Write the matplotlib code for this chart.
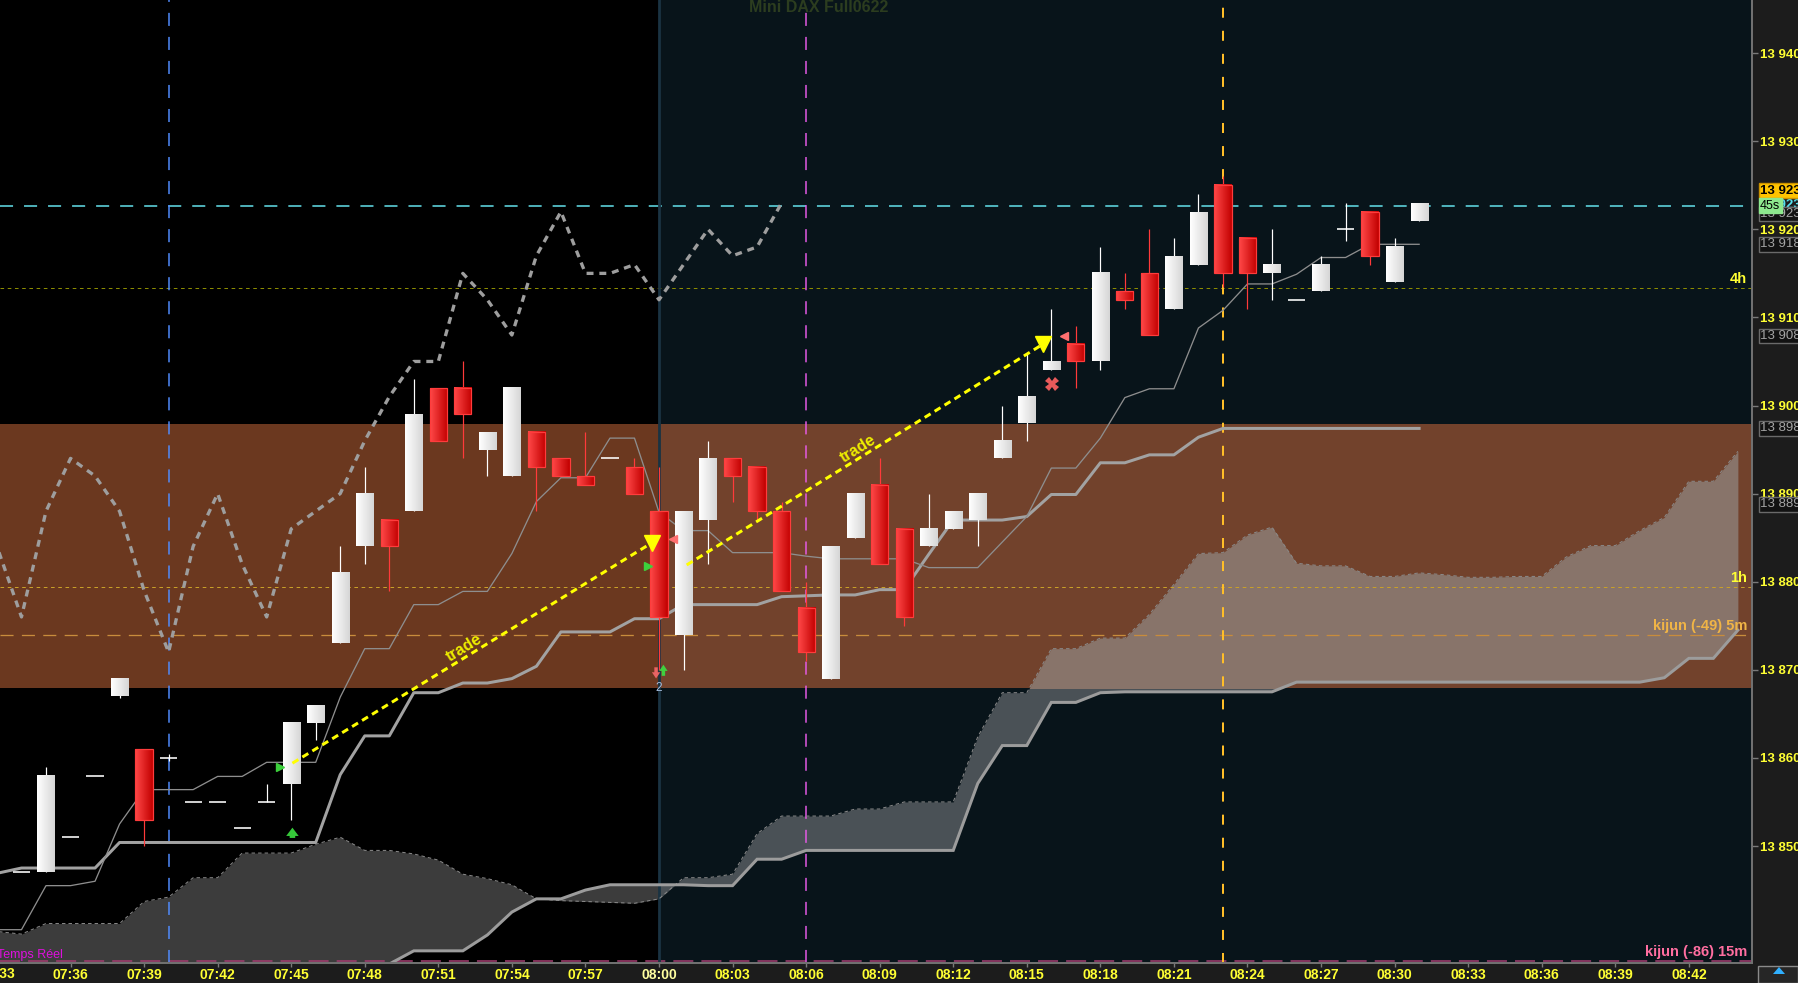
import matplotlib
matplotlib.use("Agg")
import numpy as np
import matplotlib.pyplot as plt
import matplotlib.transforms as mtransforms
from matplotlib import font_manager
from matplotlib.patches import Rectangle, Polygon
from matplotlib.colors import LinearSegmentedColormap

plt.rcParams["lines.scale_dashes"] = False
_names = {f.name for f in font_manager.fontManager.ttflist}
NARROW = "Liberation Sans Narrow" if "Liberation Sans Narrow" in _names else "Liberation Sans"
FS = 12 if NARROW == "Liberation Sans Narrow" else 10.5
FSY = FS - 1
FSX = FS - 0.5
plt.rcParams["font.family"] = [NARROW, "DejaVu Sans"]

# ---------------------------------------------------------------- data
TITLE = "Mini DAX Full0622"
CANDLE_START = "07:34"
INDICATOR_START = "07:33"
SESSION_START = "08:00"

opens = [13847, 13847, 13851, 13858, 13867, 13861, 13860, 13855, 13855, 13852,
         13855, 13857, 13864, 13873, 13884, 13887, 13888, 13902, 13902, 13895,
         13892, 13897, 13894, 13892, 13894, 13893, 13888, 13874, 13887, 13894,
         13893, 13888, 13877, 13869, 13885, 13891, 13886, 13884, 13886, 13887,
         13894, 13898, 13904, 13907, 13905, 13913, 13915, 13911, 13916, 13925,
         13919, 13915, 13912, 13913, 13920, 13922, 13914, 13921]
highs = [13847, 13859, 13851, 13858, 13869, 13861, 13860.4, 13855, 13855, 13852,
         13857, 13864, 13866, 13884, 13893, 13887, 13903, 13902, 13905, 13897,
         13902, 13897, 13894, 13897, 13894, 13894, 13893, 13888, 13896, 13894,
         13893, 13889, 13880, 13884, 13890, 13894, 13886, 13890, 13888, 13890,
         13900, 13906, 13911, 13909, 13918, 13915, 13920, 13919, 13924, 13926,
         13919, 13920, 13912, 13917, 13923, 13922, 13919, 13923]
lows = [13847, 13847, 13851, 13858, 13866.8, 13850, 13859.6, 13855, 13855, 13852,
        13855, 13853, 13862, 13873, 13882, 13879, 13888, 13896, 13894, 13892,
        13892, 13888, 13892, 13891, 13894, 13890, 13870, 13870, 13882, 13889,
        13887, 13879, 13871, 13869, 13885, 13882, 13875, 13884, 13886, 13884,
        13894, 13896, 13904, 13902, 13904, 13911, 13908, 13911, 13916, 13913.5,
        13911, 13912, 13912, 13913, 13918.7, 13916, 13914, 13921]
closes = [13847, 13858, 13851, 13858, 13869, 13853, 13860, 13855, 13855, 13852,
          13855, 13864, 13866, 13881, 13890, 13884, 13899, 13896, 13899, 13897,
          13902, 13893, 13892, 13891, 13894, 13890, 13876, 13888, 13894, 13892,
          13888, 13879, 13872, 13884, 13890, 13882, 13876, 13886, 13888, 13890,
          13896, 13901, 13905, 13905, 13915, 13912, 13908, 13917, 13922, 13915,
          13915, 13916, 13912, 13916, 13920, 13917, 13918, 13923]

# indicators, one value per minute from 07:33
tenkan = [13840.5, 13840.5, 13845.5, 13845.5, 13846.0, 13852.5, 13856.4, 13856.4, 13856.4, 13857.9,
          13857.9, 13859.5, 13859.5, 13859.5, 13866.9, 13872.4, 13872.4, 13877.4, 13877.4, 13878.9,
          13878.9, 13883.2, 13889.1, 13891.8, 13891.8, 13896.3, 13896.3, 13887.9, 13885.8, 13885.8,
          13883.3, 13883.3, 13883.3, 13882.9, 13882.6, 13882.6, 13882.6, 13882.6, 13881.6, 13881.6,
          13881.6, 13884.5, 13887.4, 13892.9, 13892.9, 13896.3, 13900.9, 13901.9, 13901.9, 13908.8,
          13910.8, 13913.8, 13913.8, 13914.9, 13916.8, 13916.8, 13918.3, 13918.3, 13918.3]
kijun = [13846.9, 13847.5, 13847.5, 13847.5, 13847.5, 13850.4, 13850.4, 13850.4, 13850.4, 13850.4,
         13850.4, 13850.4, 13850.4, 13850.4, 13858.1, 13862.5, 13862.5, 13867.4, 13867.4, 13868.5,
         13868.5, 13869.0, 13870.4, 13874.3, 13874.3, 13874.3, 13875.8, 13875.8, 13877.4, 13877.4,
         13877.4, 13877.4, 13878.3, 13878.4, 13878.5, 13878.5, 13879.1, 13879.1, 13883.1, 13887.0,
         13887.0, 13887.0, 13887.4, 13889.9, 13889.9, 13893.5, 13893.5, 13894.4, 13894.4, 13896.4,
         13897.4, 13897.4, 13897.4, 13897.4, 13897.4, 13897.4, 13897.4, 13897.4, 13897.4]
senkou_a = [13840.3, 13840.0, 13841.2, 13841.2, 13841.2, 13841.2, 13843.7, 13844.2, 13846.4, 13846.4,
            13849.2, 13849.2, 13849.2, 13850.2, 13851.0, 13849.5, 13849.5, 13849.1, 13848.4, 13846.8,
            13846.3, 13845.6, 13844.0, 13843.8, 13843.7, 13843.6, 13843.5, 13844.0, 13846.4, 13846.4,
            13846.8, 13851.4, 13853.4, 13853.4, 13853.4, 13854.2, 13854.2, 13855.0, 13855.0, 13855.0,
            13862.4, 13867.4, 13867.4, 13872.4, 13872.4, 13873.6, 13873.6, 13876.3, 13879.7, 13883.2,
            13883.3, 13885.3, 13886.2, 13882.1, 13881.8, 13881.8, 13880.6, 13880.6, 13881.0, 13880.8,
            13880.5, 13880.5, 13880.6, 13880.6, 13882.8, 13884.1, 13884.1, 13885.8, 13887.3, 13891.4,
            13891.4, 13894.8]
senkou_b = [13832, 13832, 13832, 13832, 13832, 13832, 13832, 13832, 13832, 13832,
            13832, 13832, 13832, 13832, 13832, 13834.0, 13836.6, 13838.1, 13838.1, 13838.1,
            13839.9, 13842.5, 13844.0, 13844.0, 13845.0, 13845.6, 13845.6, 13845.6, 13845.6, 13845.5,
            13845.5, 13848.5, 13848.5, 13849.5, 13849.5, 13849.5, 13849.5, 13849.5, 13849.5, 13849.5,
            13857.1, 13861.4, 13861.4, 13866.3, 13866.3, 13867.4, 13867.5, 13867.5, 13867.5, 13867.5,
            13867.5, 13867.5, 13867.5, 13868.6, 13868.6, 13868.6, 13868.6, 13868.6, 13868.6, 13868.6,
            13868.6, 13868.6, 13868.6, 13868.6, 13868.6, 13868.6, 13868.6, 13868.6, 13869.1, 13871.3,
            13871.3, 13874.5]
chikou = [13884, 13876, 13888, 13894, 13892, 13888, 13879, 13872, 13884, 13890,
          13882, 13876, 13886, 13888, 13890, 13896, 13901, 13905, 13905, 13915,
          13912, 13908, 13917, 13922, 13915, 13915, 13916, 13912, 13916, 13920,
          13917, 13918, 13923]

band_low, band_high = 13867.9, 13897.9
last_price = 13922.7
level_names = ["4h", "1h", "kijun (-49) 5m", "kijun (-86) 15m"]
level_prices = [13913.3, 13879.4, 13874.0, 13837.0]
vline_times = ["07:40", "08:06", "08:23"]

price_ticks = [13850, 13860, 13870, 13880, 13890, 13900, 13910, 13920, 13930, 13940]
time_ticks = ["07:36", "07:39", "07:42", "07:45", "07:48", "07:51", "07:54", "07:57", "08:00",
              "08:03", "08:06", "08:09", "08:12", "08:15", "08:18", "08:21", "08:24", "08:27",
              "08:30", "08:33", "08:36", "08:39", "08:42"]

box_labels = ["13 918", "13 908", "13 898", "13 889"]
box_prices = [13918.3, 13907.9, 13897.4, 13888.8]

# trades: minutes after 07:33, price
trade_lines = [[(12.05, 13859.4), (26.70, 13884.4)], [(28.13, 13881.9), (42.68, 13907.0)]]
trade_label_pos = [(19.06, 13872.5), (35.10, 13895.1)]
entry_marks = [(11.56, 13859.0), (26.56, 13881.8)]
exit_marks = [(27.56, 13884.8), (43.53, 13907.9)]
stop_mark = (43.04, 13902.4)
buy_arrow = (12.05, 13851.5)


def tmin(s):
    h, m = s.split(":")
    return int(h) * 60 + int(m) - (7 * 60 + 33)


P = 0.72  # pixel -> point at 100 dpi

fig = plt.figure(figsize=(17.98, 9.83), dpi=100, facecolor="#1c1c1c")
ax = fig.add_axes([0, 20 / 983, 1752 / 1798, 963 / 983])
ax.set_facecolor("#000000")
XMIN, XMAX = 0.124, 71.576
YMIN, YMAX = 13836.72, 13946.03
ax.set_xlim(XMIN, XMAX)
ax.set_ylim(YMIN, YMAX)
ax.set_autoscale_on(False)

t0 = tmin(SESSION_START)
ax.add_patch(Rectangle((t0, YMIN), XMAX - t0, YMAX - YMIN, fc="#08141a", ec="none", zorder=0.1))
ax.add_patch(Rectangle((XMIN, band_low), t0 - XMIN, band_high - band_low, fc="#6b381f", ec="none", zorder=0.5))
ax.add_patch(Rectangle((t0, band_low), XMAX - t0, band_high - band_low, fc="#72422c", ec="none", zorder=0.5))

# cloud
xi = tmin(INDICATOR_START) + np.arange(len(senkou_a))
regions = [
    ("#3c3c3c", (XMIN, YMIN, t0 - XMIN, YMAX - YMIN)),
    ("#4a5156", (t0, YMIN, XMAX - t0, band_low - YMIN)),
    ("#88746a", (XMIN, band_low, XMAX - XMIN, band_high - band_low)),
]
for col, (rx, ry, rw, rh) in regions:
    poly = ax.fill_between(xi, senkou_a, senkou_b, color=col, lw=0, zorder=1)
    clip = Rectangle((rx, ry), rw, rh, transform=ax.transData)
    poly.set_clip_path(clip)

ax.plot(xi, senkou_a, color="#8a8a8a", lw=1.0 * P, dashes=(2.5, 2.2), zorder=3)
ax.plot(xi, senkou_b, color="#9c9c9c", lw=3.0 * P, zorder=3, solid_joinstyle="miter")

# horizontal levels
ax.axhline(last_price, color="#66e6f0", lw=1.5 * P, dashes=(9.4, 7.9), zorder=2)
level_styles = [("#8c8c00", 1.0, (2.6, 2.6), "#ffff33"),
                ("#c8a028", 1.0, (2.6, 2.6), "#ffff33"),
                ("#c88c3c", 1.3, (9.4, 6.0), "#f0b446"),
                ("#a03c6e", 1.6, (14.4, 5.8), "#ff6ea0")]
lab_tr = mtransforms.offset_copy(ax.get_yaxis_transform(), fig=fig, x=0, y=2, units="dots")
for name, price, (lc, lw, ds, tc) in zip(level_names, level_prices, level_styles):
    ax.axhline(price, color=lc, lw=lw * P, dashes=ds, zorder=2)
    ax.text(1747 / 1752, price, name, transform=lab_tr, ha="right", va="bottom",
            color=tc, fontsize=FS, fontweight="bold", zorder=7)

# vertical lines
vstyles = [("#508cff", 1.5, (9.4, 7.9), 1.0), ("#e65ae6", 1.5, (9.4, 7.9), 1 - 11 / 963),
           ("#ffbe28", 2.0, (7.2, 9.4), 1.0)]
for t, (vc, lw, ds, top) in zip(vline_times, vstyles):
    ax.axvline(tmin(t), ymax=top, color=vc, lw=lw * P, dashes=ds, zorder=2)
ax.axvline(t0, color="#1a3342", lw=2.8 * P, zorder=2.5)

# ichimoku lines
xk = tmin(INDICATOR_START) + np.arange(len(kijun))
ax.plot(xk, kijun, color="#a2a2a2", lw=3.0 * P, zorder=4)
ax.plot(xk, tenkan, color="#8e8e8e", lw=1.3 * P, zorder=4)
xc = tmin(INDICATOR_START) + np.arange(len(chikou))
ax.plot(xc, chikou, color="#9e9e9e", lw=3.3 * P, dashes=(5.0, 4.2), zorder=4)

# candles
red_cm = LinearSegmentedColormap.from_list("rd", ["#ff4848", "#c20000"])
wht_cm = LinearSegmentedColormap.from_list("wt", ["#ffffff", "#d6d6d6"])
grad = np.linspace(0, 1, 32).reshape(1, -1)
W = 0.70
xcand = tmin(CANDLE_START) + np.arange(len(opens))
for x, o, h, l, c in zip(xcand, opens, highs, lows, closes):
    wc = "#ff3a3a" if c < o else "#ffffff"
    if h > l:
        ax.vlines(x, l, h, color=wc, lw=1.2 * P, zorder=5)
    if c == o:
        ax.hlines(o, x - W / 2, x + W / 2, color="#ffffff", lw=1.6 * P, zorder=5.2)
        continue
    lo, hi = min(o, c), max(o, c)
    ax.imshow(grad, extent=[x - W / 2, x + W / 2, lo, hi], aspect="auto",
              cmap=red_cm if c < o else wht_cm, interpolation="bilinear", zorder=5.1)
    if c < o:
        ax.add_patch(Rectangle((x - W / 2, lo), W, hi - lo, fill=False, ec="#ff3c3c",
                               lw=1.2 * P, zorder=5.15))

# trades
for (p0, p1), (lx, ly) in zip(trade_lines, trade_label_pos):
    ax.plot([p0[0], p1[0]], [p0[1], p1[1]], color="#ffff00", lw=3.0 * P, dashes=(5.0, 3.4),
            dash_capstyle="butt", zorder=6)
    ax.plot([p1[0]], [p1[1]], marker="v", ms=11, color="#ffff00", mec="#ffff00", zorder=6.5)
    d0 = ax.transData.transform(p0)
    d1 = ax.transData.transform(p1)
    ang = np.degrees(np.arctan2(d1[1] - d0[1], d1[0] - d0[0]))
    ax.text(lx, ly, "trade", rotation=ang, rotation_mode="anchor", ha="center", va="center",
            color="#eeee00", fontsize=FS + 1, fontweight="bold", zorder=6.6)
for x, y in entry_marks:
    ax.plot([x], [y], marker=">", ms=5.5, color="#3cd03c", zorder=6.5)
for x, y in exit_marks:
    ax.plot([x], [y], marker="<", ms=5.5, color="#ff7070", zorder=6.5)
ax.plot([stop_mark[0]], [stop_mark[1]], marker="X", ms=10, color="#e85a5a", mew=0, zorder=6.5)
arrow_kw = dict(arrowstyle="simple,head_width=0.9,head_length=0.6,tail_width=0.4", lw=0)
ax.annotate("", xy=(buy_arrow[0], buy_arrow[1] + 0.9), xytext=(buy_arrow[0], buy_arrow[1] - 0.9),
            arrowprops=dict(color="#36c83a", **arrow_kw), zorder=6.5)
ax.annotate("", xy=(t0 - 0.12, 13868.7), xytext=(t0 - 0.12, 13870.6),
            arrowprops=dict(color="#e86464", arrowstyle="simple,head_width=0.6,head_length=0.45,tail_width=0.25", lw=0), zorder=6.5)
ax.annotate("", xy=(t0 + 0.18, 13870.9), xytext=(t0 + 0.18, 13869.0),
            arrowprops=dict(color="#40d040", arrowstyle="simple,head_width=0.6,head_length=0.45,tail_width=0.25", lw=0), zorder=6.5)
ax.text(t0, 13867.9, "2", ha="center", va="center", color="#a8c0e0", fontsize=FS - 2, zorder=6.6)

# axes styling
for s in ["top", "left"]:
    ax.spines[s].set_visible(False)
for s in ["right", "bottom"]:
    ax.spines[s].set_color("#707070")
    ax.spines[s].set_linewidth(2 * P)
    ax.spines[s].set_zorder(8)
ax.yaxis.tick_right()
ax.set_yticks(price_ticks)
ax.set_yticklabels([f"{p // 1000} {p % 1000:03d}" for p in price_ticks])
ax.tick_params(axis="y", colors="#7a7a7a", labelcolor="#ffff33", length=4, width=1, pad=2,
               labelsize=FSY)
ax.set_xticks([tmin(t) for t in time_ticks])
ax.set_xticklabels(time_ticks)
ax.tick_params(axis="x", colors="#7a7a7a", labelcolor="#ffff33", length=3, width=1, pad=0.4,
               labelsize=FSX)
for lab in ax.get_yticklabels() + ax.get_xticklabels():
    lab.set_fontweight("bold")
for lab in ax.get_xticklabels():
    if lab.get_text() == SESSION_START:
        lab.set_color("#ffffa0")
        lab.set_fontweight("heavy")
ax.text(tmin("07:33"), -11 / 963, "07:33", transform=ax.get_xaxis_transform(), ha="center",
        va="center", color="#ffff33", fontsize=FSX, fontweight="bold", clip_on=False)

ax.text(819 / 1752, 1 - 7 / 963, TITLE, transform=ax.transAxes, ha="center", va="center",
        color="#2c3d1f", fontsize=FS + 1, fontweight="bold", zorder=7)
ax.text(-3 / 1752, 8 / 963, "Temps Réel", transform=ax.transAxes, ha="left", va="center",
        color="#dd10dd", fontsize=FS - 1.5, zorder=7, clip_on=False)

# right-hand value boxes
bx = 1760 / 1752
ytr = ax.get_yaxis_transform()


def vbox(text, price, dy, fc, ec, tc, weight="normal", z=9, fs=FSY):
    tr = mtransforms.offset_copy(ytr, fig=fig, x=0, y=dy, units="dots")
    ax.text(bx, price, text, transform=tr, ha="left", va="center", color=tc, fontsize=fs,
            fontweight=weight, clip_on=False, zorder=z,
            bbox=dict(boxstyle="square,pad=0.1", fc=fc, ec=ec, lw=1))


for t, p in zip(box_labels, box_prices):
    vbox(t, p, 0, "#121212", "#6a6a6a", "#a4a4a4")
ax.text(bx, last_price, "13 923", transform=mtransforms.offset_copy(ytr, fig=fig, x=0, y=1, units="dots"),
        ha="left", va="center", color="#55e0ee", fontsize=FSY, fontweight="bold", clip_on=False, zorder=8.5)
vbox("13 923", last_price, -8.5, "#121212", "#6a6a6a", "#a4a4a4", z=9)
vbox("13 923", last_price, 15, "#ffc400", "#c89000", "#000000", weight="bold", z=9.5)
vbox("45s", last_price, 0, "#8ee88e", "#8ee88e", "#000000", z=9.6, fs=FSY - 0.5)

# small icon bottom-right
fig.add_artist(Rectangle((1758 / 1798, 0), 40 / 1798, 17 / 983, transform=fig.transFigure,
                         fc="#262626", ec="#8a8a8a", lw=1))
fig.add_artist(Polygon([[1773 / 1798, 9 / 983], [1779 / 1798, 16 / 983], [1785 / 1798, 9 / 983]],
                       closed=True, transform=fig.transFigure, fc="#30b0ff", ec="none"))

fig.savefig("out.png", dpi=100, facecolor=fig.get_facecolor())
